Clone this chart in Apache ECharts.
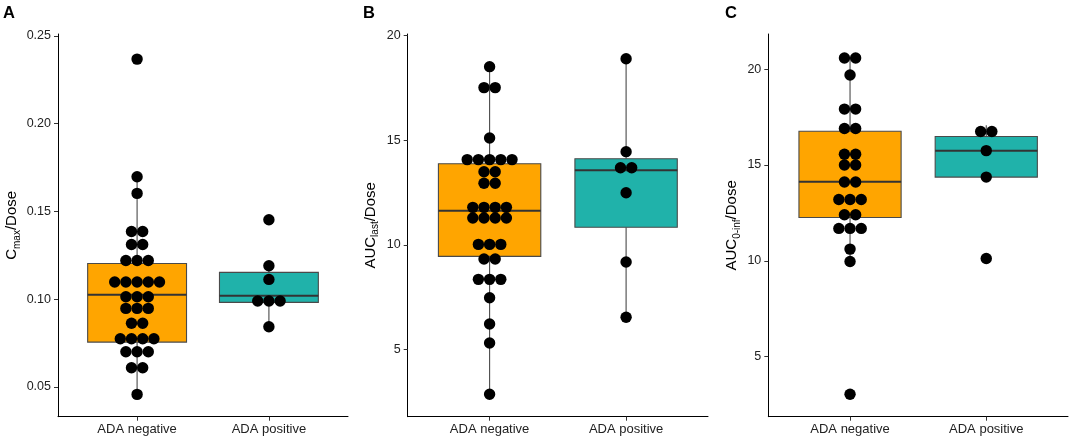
<!DOCTYPE html>
<html><head><meta charset="utf-8">
<script src="https://cdn.jsdelivr.net/npm/echarts@6/dist/echarts.min.js"></script>
<style>html,body{margin:0;padding:0;background:#fff}#c{width:1072px;height:438px}</style>
</head><body><div id="c"></div>
<script>
// ---------- data ----------
const groups = ['ADA negative', 'ADA positive'];
const panelLetters = ['A', 'B', 'C'];

// individual observations (dots)
const cmaxNeg = [0.2367, 0.1697, 0.1602, 0.1385, 0.1385, 0.1311, 0.1311, 0.1220, 0.1220, 0.1220,
  0.1097, 0.1097, 0.1097, 0.1097, 0.1097, 0.1013, 0.1013, 0.1013, 0.0947, 0.0947, 0.0947,
  0.0862, 0.0862, 0.0774, 0.0774, 0.0774, 0.0774, 0.0700, 0.0700, 0.0700, 0.0609, 0.0609, 0.0457];
const cmaxPos = [0.1452, 0.1190, 0.1112, 0.0989, 0.0989, 0.0989, 0.0842];
const auclastNeg = [18.52, 17.52, 17.52, 15.11, 14.08, 14.08, 14.08, 14.08, 14.08, 13.50, 13.50,
  12.95, 12.95, 11.80, 11.80, 11.80, 11.80, 11.29, 11.29, 11.29, 11.29, 10.03, 10.03, 10.03,
  9.33, 9.33, 8.36, 8.36, 8.36, 7.48, 6.23, 5.32, 2.87];
const auclastPos = [18.90, 14.46, 13.69, 13.69, 12.50, 9.19, 6.55];
const aucinfNeg = [20.59, 20.59, 19.70, 17.92, 17.92, 16.91, 16.91, 15.56, 15.56, 15.00, 15.00,
  14.11, 14.11, 13.20, 13.20, 13.20, 12.40, 12.40, 11.69, 11.69, 11.69, 10.61, 9.96, 3.03];
const aucinfPos = [16.75, 16.75, 15.75, 14.37, 10.12];

// box summaries: [lower whisker, Q1, median, Q3, upper whisker]
const cmaxBoxNeg = [0.0457, 0.0755, 0.1024, 0.1203, 0.1697];
const cmaxBoxPos = [0.0842, 0.0981, 0.1019, 0.1152, 0.1190];
const auclastBoxNeg = [2.87, 9.46, 11.64, 13.88, 18.52];
const auclastBoxPos = [6.55, 10.85, 13.57, 14.12, 18.90];
const aucinfBoxNeg = [9.96, 12.26, 14.13, 16.76, 20.59];
const aucinfBoxPos = [14.37, 14.37, 15.75, 16.49, 17.08];

// tick labels
const cmaxTicks = [0.05, 0.10, 0.15, 0.20, 0.25];
const auclastTicks = [5, 10, 15, 20];
const aucinfTicks = [5, 10, 15, 20];

// ---------- style / layout ----------
const FONT = '"Liberation Sans", Arial, Helvetica, sans-serif';
const boxColors = ['#FFA500', '#20B2AA'];
const grids = [
  {left: 58, right: 724, top: 34, bottom: 21.3},
  {left: 407.7, right: 364, top: 34, bottom: 21.3},
  {left: 768.3, right: 4, top: 34, bottom: 21.3}
];
const yRanges = [[0.033, 0.251], [1.8, 20.08], [1.86, 21.84]];
const nameGaps = [36, 27, 26];
const letterLeft = [3, 363, 725];
const axisNames = [
  '{n|C}{s|max}{n|/Dose}',
  '{n|AUC}{s|last}{n|/Dose}',
  '{n|AUC}{s|0-inf}{n|/Dose}'
];
const DOT_STEP = 11.2, DOT_R = 5.7;

function stackDots(values, cat) {
  const out = [];
  let i = 0;
  while (i < values.length) {
    let j = i;
    while (j < values.length && values[j] === values[i]) j++;
    const n = j - i;
    for (let k = 0; k < n; k++) out.push([cat, values[i], k - (n - 1) / 2]);
    i = j;
  }
  return out;
}

const panels = [
  {neg: cmaxNeg, pos: cmaxPos, boxNeg: cmaxBoxNeg, boxPos: cmaxBoxPos, ticks: cmaxTicks, fmt: v => v.toFixed(2)},
  {neg: auclastNeg, pos: auclastPos, boxNeg: auclastBoxNeg, boxPos: auclastBoxPos, ticks: auclastTicks, fmt: v => String(v)},
  {neg: aucinfNeg, pos: aucinfPos, boxNeg: aucinfBoxNeg, boxPos: aucinfBoxPos, ticks: aucinfTicks, fmt: v => String(v)}
];

function renderBox(params, api) {
  const x = api.value(0);
  const pMin = api.coord([x, api.value(1)]);
  const pQ1 = api.coord([x, api.value(2)]);
  const pMed = api.coord([x, api.value(3)]);
  const pQ3 = api.coord([x, api.value(4)]);
  const pMax = api.coord([x, api.value(5)]);
  const w = api.size([0.75, 0])[0];
  const cx = pMed[0];
  return {
    type: 'group',
    children: [
      {type: 'line', shape: {x1: cx, y1: pMin[1], x2: cx, y2: pQ1[1]}, style: {stroke: '#4a4a4a', lineWidth: 1.1}},
      {type: 'line', shape: {x1: cx, y1: pQ3[1], x2: cx, y2: pMax[1]}, style: {stroke: '#4a4a4a', lineWidth: 1.1}},
      {type: 'rect', shape: {x: cx - w / 2, y: pQ3[1], width: w, height: pQ1[1] - pQ3[1]},
        style: {fill: boxColors[x - 1], stroke: '#4a4a4a', lineWidth: 1.1}},
      {type: 'line', shape: {x1: cx - w / 2, y1: pMed[1], x2: cx + w / 2, y2: pMed[1]}, style: {stroke: '#333', lineWidth: 2}}
    ]
  };
}

function renderDot(params, api) {
  const p = api.coord([api.value(0), api.value(1)]);
  return {type: 'circle', shape: {cx: p[0] + api.value(2) * DOT_STEP, cy: p[1], r: DOT_R}, style: {fill: '#000'}};
}

const option = {
  animation: false,
  backgroundColor: '#fff',
  textStyle: {fontFamily: FONT},
  title: panelLetters.map((t, i) => ({
    text: t, left: letterLeft[i], top: 5, padding: 0,
    textStyle: {fontSize: 16.5, fontWeight: 'bold', color: '#000', fontFamily: FONT}
  })),
  grid: grids,
  xAxis: grids.map((g, i) => ({
    type: 'value', gridIndex: i, min: 0.4, max: 2.6,
    splitLine: {show: false},
    axisLine: {show: true, lineStyle: {color: '#000', width: 1}},
    axisTick: {show: true, length: 4, lineStyle: {color: '#333'}, customValues: [1, 2]},
    axisLabel: {customValues: [1, 2], formatter: v => groups[Math.round(v) - 1], color: '#222', fontSize: 13, margin: 6, fontFamily: FONT}
  })),
  yAxis: panels.map((p, i) => ({
    type: 'value', gridIndex: i, min: yRanges[i][0], max: yRanges[i][1],
    splitLine: {show: false},
    axisLine: {show: true, lineStyle: {color: '#000', width: 1}},
    axisTick: {show: true, length: 4, lineStyle: {color: '#333'}, customValues: p.ticks},
    axisLabel: {customValues: p.ticks, formatter: p.fmt, color: '#222', fontSize: 12.5, margin: 7, fontFamily: FONT},
    name: axisNames[i], nameLocation: 'middle', nameGap: nameGaps[i], nameRotate: 90,
    nameTextStyle: {
      fontFamily: FONT,
      rich: {
        n: {fontSize: 15, color: '#000', fontFamily: FONT, lineHeight: 20, verticalAlign: 'middle'},
        s: {fontSize: 10, color: '#000', fontFamily: FONT, lineHeight: 12, verticalAlign: 'bottom'}
      }
    }
  })),
  series: []
};

panels.forEach((p, i) => {
  option.series.push({
    type: 'custom', xAxisIndex: i, yAxisIndex: i, z: 2,
    renderItem: renderBox,
    encode: {x: 0, y: [1, 2, 3, 4, 5]},
    data: [[1].concat(p.boxNeg), [2].concat(p.boxPos)]
  });
  option.series.push({
    type: 'custom', xAxisIndex: i, yAxisIndex: i, z: 3,
    renderItem: renderDot,
    encode: {x: 0, y: 1},
    data: stackDots(p.neg, 1).concat(stackDots(p.pos, 2))
  });
});

const chart = echarts.init(document.getElementById('c'), null, {renderer: 'canvas'});
chart.setOption(option);
</script>
</body></html>
